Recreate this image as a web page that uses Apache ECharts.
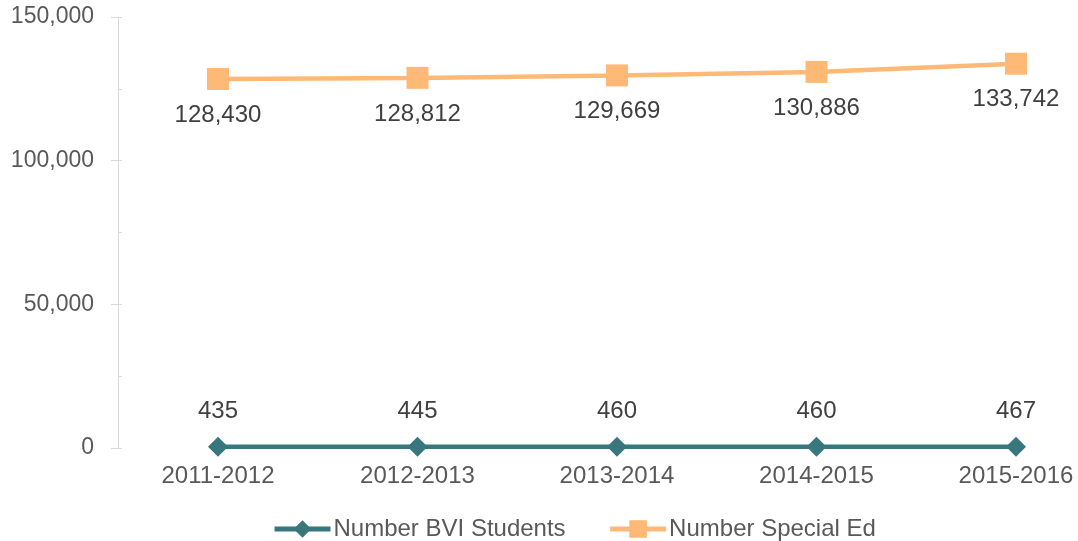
<!DOCTYPE html>
<html>
<head>
<meta charset="utf-8">
<script src="https://cdn.jsdelivr.net/npm/echarts@6/dist/echarts.min.js"></script>
<style>html,body{margin:0;padding:0;background:#fff;}#c{width:1078px;height:541px;}</style>
</head>
<body>
<div id="c"></div>
<script>
const categories = ['2011-2012', '2012-2013', '2013-2014', '2014-2015', '2015-2016'];
const bviStudents = [435, 445, 460, 460, 467];
const specialEd = [128430, 128812, 129669, 130886, 133742];
const yTicks = [0, 50000, 100000, 150000];

const fmt = v => Number(v).toLocaleString('en-US');
const FONT = '"Liberation Sans", Arial, sans-serif';

const chart = echarts.init(document.getElementById('c'), null, {renderer: 'canvas'});
chart.setOption({
  animation: false,
  textStyle: {fontFamily: FONT},
  grid: {left: 218, right: 62, top: 17, bottom: 93, containLabel: false},
  legend: {
    top: 512,
    left: 267,
    itemWidth: 56,
    itemHeight: 22,
    itemGap: 42,
    lineStyle: {width: 5},
    textStyle: {fontSize: 24, color: '#595959', fontFamily: FONT, padding: [0, 0, 0, -2]},
    data: ['Number BVI Students', 'Number Special Ed']
  },
  xAxis: {
    type: 'category',
    data: categories,
    boundaryGap: false,
    axisLine: {show: false},
    axisTick: {show: false},
    axisLabel: {fontSize: 24, color: '#595959', margin: 16, fontFamily: FONT}
  },
  yAxis: [{
    type: 'value',
    min: yTicks[0],
    max: yTicks[yTicks.length - 1],
    interval: yTicks[1] - yTicks[0],
    offset: 100,
    axisLine: {show: true, lineStyle: {color: '#d9d9d9', width: 1}},
    axisTick: {show: true, length: 7, lineStyle: {color: '#d9d9d9'}},
    splitLine: {show: false},
    axisLabel: {fontSize: 23, color: '#595959', margin: 24, fontFamily: FONT, formatter: fmt}
  }, {
    type: 'value',
    min: yTicks[0],
    max: yTicks[yTicks.length - 1],
    interval: (yTicks[1] - yTicks[0]) / 2,
    offset: 100,
    position: 'left',
    axisLine: {show: false},
    axisTick: {show: true, inside: true, length: 4, lineStyle: {color: '#d9d9d9'}},
    splitLine: {show: false},
    axisLabel: {show: false}
  }],
  series: [{
    name: 'Number BVI Students',
    type: 'line',
    data: bviStudents,
    symbol: 'diamond',
    symbolSize: 20,
    color: '#38777e',
    lineStyle: {width: 4.5, color: '#38777e'},
    itemStyle: {color: '#38777e'},
    label: {show: true, position: 'top', distance: 13, fontSize: 24, color: '#404040', fontFamily: FONT, formatter: p => fmt(p.value)},
    z: 3
  }, {
    name: 'Number Special Ed',
    type: 'line',
    data: specialEd,
    symbol: 'rect',
    symbolSize: 22,
    color: '#ffb976',
    lineStyle: {width: 4.5, color: '#ffb976'},
    itemStyle: {color: '#ffb976'},
    label: {show: true, position: 'bottom', distance: 13, fontSize: 24, color: '#404040', fontFamily: FONT, formatter: p => fmt(p.value)},
    z: 2
  }]
});
</script>
</body>
</html>
